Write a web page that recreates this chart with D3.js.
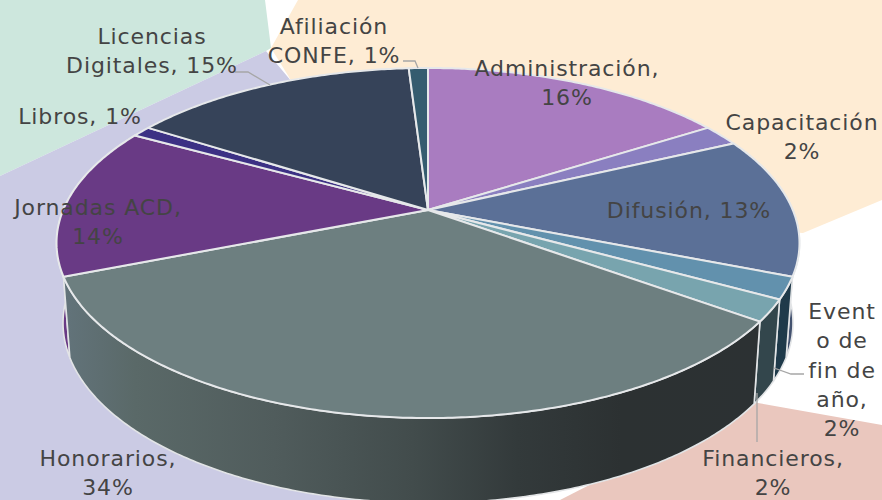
<!DOCTYPE html>
<html><head><meta charset="utf-8">
<script src="https://cdn.jsdelivr.net/npm/d3@7"></script>
<style>html,body{margin:0;padding:0;background:#fff}svg{display:block}</style>
</head><body><svg id="c" width="882" height="500"></svg>
<script>
const categories = ["Administración","Capacitación","Difusión","Evento de fin de año","Financieros","Honorarios","Jornadas ACD","Libros","Licencias Digitales","Afiliación CONFE"];
const shares = [16,2,13,2,2,34,14,1,15,1];
const topColors = ["#a97cc0","#8a7fc0","#5b7097","#6291ad","#78a4ae","#6d7f80","#693a85","#3c3184","#364359","#355c6f"];
const wallColors = ["#7c5a8e","#655d8e","#43526f","#1f3a4a","#33464c","url(#hon)","#693a85","#2c2461","#283142","#273f4f"];
const labelLines = [
  ["Administración,","16%"],["Capacitación","2%"],["Difusión, 13%"],["Event","o de","fin de","año,","2%"],
  ["Financieros,","2%"],["Honorarios,","34%"],["Jornadas ACD,","14%"],["Libros, 1%"],["Licencias","Digitales, 15%"],["Afiliación","CONFE, 1%"]];
const labelCx = [567,802,689,842,773,108,98,80,152,334];
const labelTop = [76,130,218,319,465.5,465.5,215,124,44,34];
const leaders = [
  [[235,72],[248,72],[270,85]],
  [[403,61],[415,61],[418,68]],
  [[804,374],[791,374],[774,368]],
  [[757,393],[757,442]]];
const bgShapes = [
  {fill:"#cde7dd",pts:[[0,0],[265,0],[271,48],[266,51],[0,176]]},
  {fill:"#cbcbe4",pts:[[0,176],[266,51],[292,82],[428,210],[428,500],[0,500]]},
  {fill:"#feecd4",pts:[[298,0],[882,0],[882,200],[803,233],[428,210],[292,82],[271,48]]},
  {fill:"#eac7be",pts:[[752,402],[882,425],[882,500],[560,500]]}];
const honStops = [[0,"#62737a"],[.1,"#5a6968"],[.3,"#505c5c"],[.5,"#424c4c"],[.65,"#333a3b"],[.8,"#2c3132"],[1,"#2c3133"]];

const svg = d3.select("#c");
const cx=428, cy=210, A=364.8, K=168.8, P=0.1886;
const project = t => { const u=Math.sin(t), v=-Math.cos(t), s=1/(1-P*v); return [cx+A*u*s, cy+K*v*s]; };
const lower = ([x,y]) => [cx+(x-cx)*365/371.5, 323+(y-243)*180/175];

const defs = svg.append("defs");
const g = defs.append("linearGradient").attr("id","hon").attr("gradientUnits","userSpaceOnUse")
  .attr("x1",66).attr("x2",760).attr("y1",0).attr("y2",0);
g.selectAll("stop").data(honStops).join("stop").attr("offset",d=>d[0]).attr("stop-color",d=>d[1]);

const line = d3.line();
svg.selectAll("path.bg").data(bgShapes).join("path").attr("class","bg")
  .attr("d",d=>line(d.pts)+"Z").attr("fill",d=>d.fill);

const slices = d3.pie().sort(null).startAngle(0).endAngle(2*Math.PI)(shares);
const arcPts = d => { const n=Math.max(4,Math.ceil((d.endAngle-d.startAngle)/0.01));
  return d3.range(n+1).map(i=>project(d.startAngle+(d.endAngle-d.startAngle)*i/n)); };

const walls = slices.map((d,i)=>({d,i})).filter(o=>o.d.endAngle>1.2 && o.d.startAngle<5.5);
const wallOrder = [2,3,6,4,5];
svg.selectAll("path.wall").data(wallOrder.map(k=>walls.find(o=>o.i===k))).join("path").attr("class","wall")
  .attr("d",o=>{const t=arcPts(o.d); return line(t.concat(t.map(lower).reverse()))+"Z";})
  .attr("fill",o=>wallColors[o.i]).attr("stroke","#e2e4e6").attr("stroke-width",1.6).attr("stroke-linejoin","round");

svg.selectAll("path.top").data(slices).join("path").attr("class","top")
  .attr("d",(d,i)=>line([[cx,cy]].concat(arcPts(d)))+"Z")
  .attr("fill",(d,i)=>topColors[i]).attr("stroke","#e6e8ea").attr("stroke-width",2).attr("stroke-linejoin","round");

svg.selectAll("path.lead").data(leaders).join("path").attr("class","lead")
  .attr("d",d=>line(d)).attr("fill","none").attr("stroke","#a6a6a6").attr("stroke-width",1.3);

const lab = svg.selectAll("text").data(labelLines).join("text")
  .attr("font-family","'DejaVu Sans', sans-serif").attr("font-size",22).attr("letter-spacing",0.9).attr("fill","#444444")
  .attr("text-anchor","middle");
lab.each(function(lines,i){
  d3.select(this).selectAll("tspan").data(lines).join("tspan")
    .attr("x",labelCx[i]).attr("y",(l,j)=>labelTop[i]+j*29.3).text(l=>l);
});
</script></body></html>
